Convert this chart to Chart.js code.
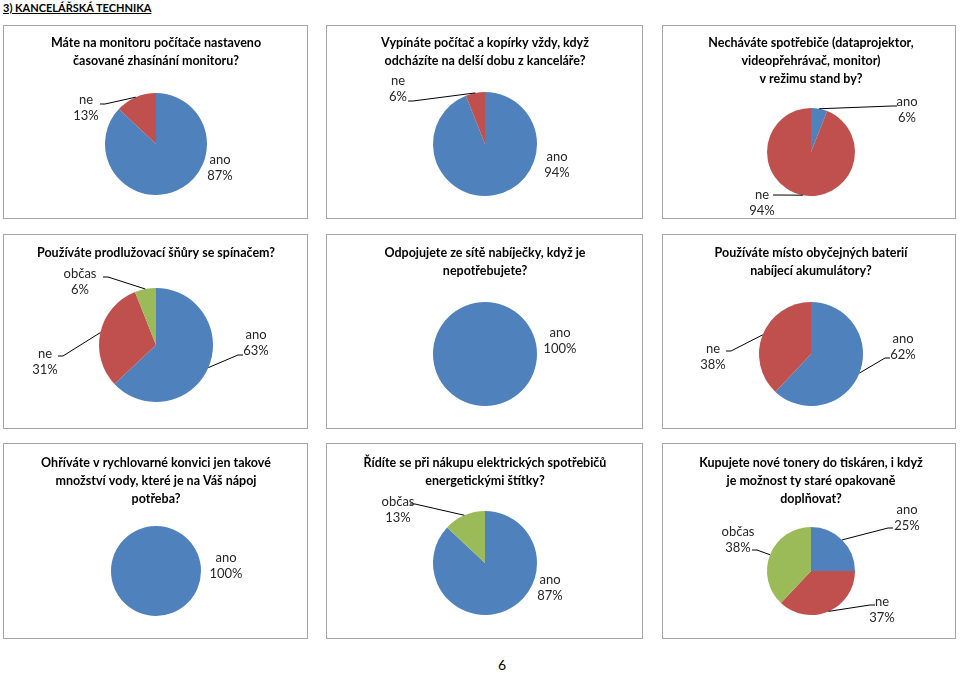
<!DOCTYPE html>
<html>
<head>
<meta charset="utf-8">
<script src="https://cdn.jsdelivr.net/npm/chart.js@4.4.1/dist/chart.umd.min.js"></script>
<style>
  body { margin: 0; background: #fff; width: 960px; height: 673px; position: relative; overflow: hidden; font-family: Lato, sans-serif; }
  .box { position: absolute; border: 1px solid #a6a6a6; box-sizing: border-box; }
  .box canvas { display: block; }
  #head { position: absolute; left: 3px; top: 1px; font: bold 11px Lato, sans-serif; text-decoration: underline; color: #000; }
  #page { position: absolute; left: 498px; top: 656px; font: 14px Lato, sans-serif; color: #000; }
</style>
</head>
<body>
<div id="head">3) KANCELÁŘSKÁ TECHNIKA</div>
<div id="page">6</div>
<script>
// survey answers, in percent
const q1Labels = ['ano', 'ne'];
const q1Values = [87, 13];
const q2Labels = ['ano', 'ne'];
const q2Values = [94, 6];
const q3Labels = ['ano', 'ne'];
const q3Values = [6, 94];
const q4Labels = ['ano', 'ne', 'občas'];
const q4Values = [63, 31, 6];
const q5Labels = ['ano'];
const q5Values = [100];
const q6Labels = ['ano', 'ne'];
const q6Values = [62, 38];
const q7Labels = ['ano'];
const q7Values = [100];
const q8Labels = ['ano', 'občas'];
const q8Values = [87, 13];
const q9Labels = ['ano', 'ne', 'občas'];
const q9Values = [25, 37, 38];

const titles = [
  ['Máte na monitoru počítače nastaveno', 'časované zhasínání monitoru?'],
  ['Vypínáte počítač a kopírky vždy, když', 'odcházíte na delší dobu z kanceláře?'],
  ['Necháváte spotřebiče (dataprojektor,', 'videopřehrávač, monitor)', 'v režimu stand by?'],
  ['Používáte prodlužovací šňůry se spínačem?'],
  ['Odpojujete ze sítě nabíječky, když je', 'nepotřebujete?'],
  ['Používáte místo obyčejných baterií', 'nabíjecí akumulátory?'],
  ['Ohříváte v rychlovarné konvici jen takové', 'množství vody, které je na Váš nápoj', 'potřeba?'],
  ['Řídíte se při nákupu elektrických spotřebičů', 'energetickými štítky?'],
  ['Kupujete nové tonery do tiskáren, i když', 'je možnost ty staré opakovaně', 'doplňovat?']
];

const sliceColors = { 'ano': '#4F81BD', 'ne': '#C0504D', 'občas': '#9BBB59' };

// layout of the page
const cols = [[3, 305], [326, 317], [662, 294]];
const rows = [[25, 194], [234, 195], [443, 196]];
const lineH = 18;

// pie centre/radius, first title line y, label spots (offset from centre, leader start)
const panels = [
  { labels: q1Labels, values: q1Values, cx: 156, cy: 144, r: 51, ty: 43,
    spots: [{ at: [64, 24] }, { at: [-70, -36], lead: [-56, -40] }] },
  { labels: q2Labels, values: q2Values, cx: 485, cy: 144, r: 52, ty: 43,
    spots: [{ at: [72, 21] }, { at: [-87, -55], lead: [-77, -43] }] },
  { labels: q3Labels, values: q3Values, cx: 811, cy: 152, r: 44, ty: 43,
    spots: [{ at: [96, -42], lead: [86, -46] }, { at: [-49, 51], lead: [-38, 43] }] },
  { labels: q4Labels, values: q4Values, cx: 156, cy: 345, r: 57, ty: 253,
    spots: [{ at: [100, -2], lead: [87, 10] }, { at: [-111, 17], lead: [-98, 11] }, { at: [-76, -63], lead: [-53, -68] }] },
  { labels: q5Labels, values: q5Values, cx: 485, cy: 354, r: 52, ty: 253,
    spots: [{ at: [75, -13] }] },
  { labels: q6Labels, values: q6Values, cx: 811, cy: 354, r: 52, ty: 253,
    spots: [{ at: [92, -7], lead: [79, 4] }, { at: [-98, 3], lead: [-85, -3] }] },
  { labels: q7Labels, values: q7Values, cx: 156, cy: 571, r: 45, ty: 463,
    spots: [{ at: [70, -5] }] },
  { labels: q8Labels, values: q8Values, cx: 485, cy: 563, r: 52, ty: 463,
    spots: [{ at: [65, 25] }, { at: [-87, -53], lead: [-75, -59] }] },
  { labels: q9Labels, values: q9Values, cx: 811, cy: 571, r: 44, ty: 463,
    spots: [{ at: [96, -53], lead: [82, -43] }, { at: [71, 39], lead: [64, 34] }, { at: [-73, -31], lead: [-59, -21] }] }
];

function callouts(spots) {
  return {
    id: 'callouts',
    afterDatasetsDraw(chart) {
      const ctx = chart.ctx;
      const arcs = chart.getDatasetMeta(0).data;
      const values = chart.data.datasets[0].data;
      ctx.save();
      ctx.font = '13px Lato, sans-serif';
      ctx.fillStyle = '#262626';
      ctx.textAlign = 'center';
      ctx.textBaseline = 'middle';
      arcs.forEach((arc, i) => {
        const spot = spots[i];
        if (!spot) return;
        const { x, y, startAngle, endAngle, outerRadius } =
          arc.getProps(['x', 'y', 'startAngle', 'endAngle', 'outerRadius'], true);
        if (spot.lead) {
          const mid = (startAngle + endAngle) / 2;
          const ex = x + Math.cos(mid) * outerRadius;
          const ey = y + Math.sin(mid) * outerRadius;
          const sx = x + spot.lead[0];
          const sy = y + spot.lead[1];
          const dir = ex > sx ? 1 : -1;
          ctx.beginPath();
          ctx.moveTo(sx, sy);
          ctx.lineTo(sx + dir * 5, sy);
          ctx.lineTo(ex, ey);
          ctx.strokeStyle = '#000';
          ctx.lineWidth = 1;
          ctx.stroke();
        }
        ctx.fillText(chart.data.labels[i], x + spot.at[0], y + spot.at[1] - 8);
        ctx.fillText(values[i] + '%', x + spot.at[0], y + spot.at[1] + 8);
      });
      ctx.restore();
    }
  };
}

panels.forEach((p, n) => {
  const [left, w] = cols[n % 3];
  const [top, h] = rows[Math.floor(n / 3)];
  const box = document.createElement('div');
  box.className = 'box';
  box.style.left = left + 'px';
  box.style.top = top + 'px';
  box.style.width = w + 'px';
  box.style.height = h + 'px';
  const canvas = document.createElement('canvas');
  const cw = w - 2, ch = h - 2;
  canvas.width = cw;
  canvas.height = ch;
  box.appendChild(canvas);
  document.body.appendChild(box);

  const ox = left + 1, oy = top + 1;
  const title = titles[n];
  const titlePad = (p.ty - oy) - lineH / 2;
  const areaTop = titlePad + title.length * lineH;
  const cyL = p.cy - oy;
  const padBottom = Math.max(ch - (2 * cyL - areaTop), 0);
  const shift = (p.cx - ox) - cw / 2;
  const padLeft = shift > 0 ? 2 * shift : 0;
  const padRight = shift < 0 ? -2 * shift : 0;

  new Chart(canvas, {
    type: 'pie',
    data: {
      labels: p.labels,
      datasets: [{
        data: p.values,
        backgroundColor: p.labels.map(l => sliceColors[l]),
        borderWidth: 0,
        radius: p.r
      }]
    },
    options: {
      responsive: false,
      animation: false,
      layout: { padding: { top: 0, bottom: padBottom, left: padLeft, right: padRight } },
      plugins: {
        legend: { display: false },
        tooltip: { enabled: false },
        title: {
          display: true,
          text: title,
          color: '#000',
          font: { family: 'Lato, sans-serif', size: 12.5, weight: 'bold', lineHeight: lineH / 12.5 },
          padding: { top: titlePad, bottom: 0 }
        }
      }
    },
    plugins: [callouts(p.spots)]
  });
});
</script>
</body>
</html>
